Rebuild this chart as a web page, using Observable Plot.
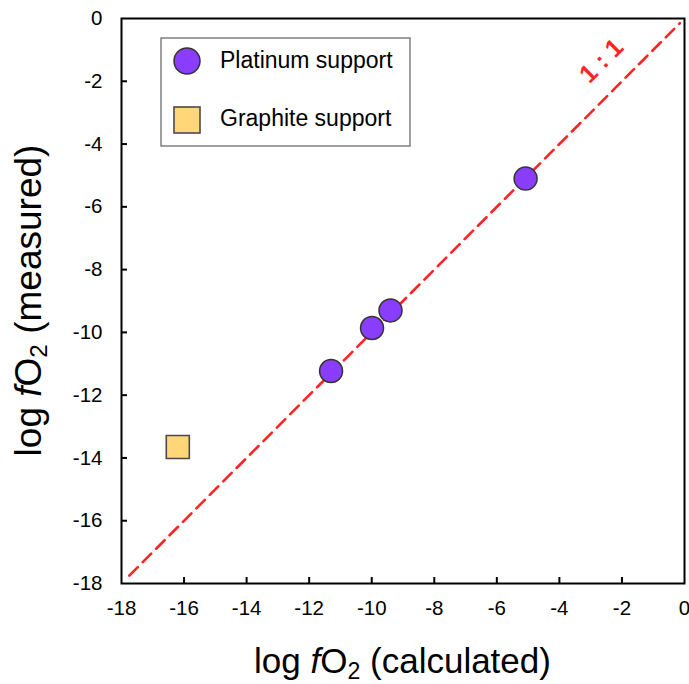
<!DOCTYPE html>
<html>
<head>
<meta charset="utf-8">
<script src="https://cdn.jsdelivr.net/npm/d3@7"></script>
<script src="https://cdn.jsdelivr.net/npm/@observablehq/plot@0.6"></script>
<style>
  html, body { margin: 0; padding: 0; background: #fff; }
  #wrap { position: relative; width: 689px; height: 684px; overflow: hidden; font-family: "Liberation Sans", Arial, Helvetica, sans-serif; }
  #wrap svg.plot { position: absolute; left: 0; top: 0; }
  .title { position: absolute; white-space: nowrap; text-align: center; color: #000; }
  .title sub { font-size: 0.66em; line-height: 0; vertical-align: -0.25em; }
  #xtitle { font-size: 35px; line-height: 35px; left: 121px; width: 563px; top: 643px; }
  #ytitle { font-size: 37px; line-height: 37px; width: 500px; left: calc(28px - 250px); top: calc(300px - 18.5px); transform: rotate(-90deg); }
  #legend { position: absolute; left: 0; top: 0; pointer-events: none; }
</style>
</head>
<body>
<div id="wrap"></div>
<script>
// ---- data ----
const platinumCalc = [-5.08, -9.40, -9.99, -11.30];
const platinumMeas = [-5.10, -9.30, -9.86, -11.23];
const graphiteCalc = [-16.2];
const graphiteMeas = [-13.65];
const xTicks = [-18, -16, -14, -12, -10, -8, -6, -4, -2, 0];
const yTicks = [-18, -16, -14, -12, -10, -8, -6, -4, -2, 0];
const oneToOne = [-17.75, -0.15];
const oneToOneLabel = {x: -2.65, y: -1.35, text: "1 : 1"};
const legendLabels = ["Platinum support", "Graphite support"];

const purple = "#8b3dfd";
const yellow = "#ffd678";

const platinum = platinumCalc.map((c, i) => ({x: c, y: platinumMeas[i]}));
const graphite = graphiteCalc.map((c, i) => ({x: c, y: graphiteMeas[i]}));
const line11 = oneToOne.map(v => ({x: v, y: v}));
const innerX = xTicks.slice(1, -1);
const innerY = yTicks.slice(1, -1);
const font = '"Liberation Sans", Arial, Helvetica, sans-serif';

const W = 689, H = 684, ML = 121, MR = 5, MT = 18, MB = 101, TICK = 6;
const frameW = W - ML - MR, frameH = H - MT - MB;

const chart = Plot.plot({
  width: W,
  height: H,
  marginLeft: ML,
  marginRight: MR,
  marginTop: MT,
  marginBottom: MB,
  x: {domain: [-18, 0], label: null},
  y: {domain: [-18, 0], label: null},
  style: {fontFamily: font, fontSize: "20px", color: "#000", background: "transparent", overflow: "visible"},
  marks: [
    Plot.line(line11, {x: "x", y: "y", stroke: "#ff2424", strokeWidth: 2.6, strokeDasharray: "12,7"}),
    Plot.text([oneToOneLabel], {x: "x", y: "y", text: "text", rotate: -45, fill: "#ff2424", fontSize: 25, fontWeight: "bold"}),
    Plot.dot(graphite, {x: "x", y: "y", symbol: "square", r: 13, fill: yellow, stroke: "#4a4a4a", strokeWidth: 1.6}),
    Plot.dot(platinum, {x: "x", y: "y", r: 11.5, fill: purple, stroke: "#333", strokeWidth: 1.5}),
    Plot.frame({stroke: "#000", strokeWidth: 2}),
    // inward tick marks on bottom and left
    Plot.ruleX(innerX, {x: d => d, insetTop: frameH - TICK, stroke: "#000", strokeWidth: 2}),
    Plot.ruleY(innerY, {y: d => d, insetRight: frameW - TICK, stroke: "#000", strokeWidth: 2}),
    Plot.axisX({ticks: xTicks, tickSize: 0, tickPadding: 17, fontSize: 20.5, tickFormat: d => String(d), label: null}),
    Plot.axisY({ticks: yTicks, tickSize: 0, tickPadding: 19, fontSize: 20.5, tickFormat: d => String(d), label: null})
  ]
});
chart.classList.add("plot");
const wrap = document.getElementById("wrap");
wrap.appendChild(chart);

// axis titles
const xt = document.createElement("div");
xt.id = "xtitle"; xt.className = "title";
xt.innerHTML = 'log <i>f</i>O<sub>2</sub> (calculated)';
wrap.appendChild(xt);
const yt = document.createElement("div");
yt.id = "ytitle"; yt.className = "title";
yt.innerHTML = 'log <i>f</i>O<sub>2</sub> (measured)';
wrap.appendChild(yt);

// legend
const ns = "http://www.w3.org/2000/svg";
const leg = document.createElementNS(ns, "svg");
leg.setAttribute("id", "legend");
leg.setAttribute("width", W);
leg.setAttribute("height", H);
const lg = d3.select(leg);
lg.append("rect").attr("x", 161).attr("y", 38).attr("width", 249).attr("height", 108)
  .attr("fill", "#fff").attr("stroke", "#808080").attr("stroke-width", 1.5);
lg.append("circle").attr("cx", 187).attr("cy", 61).attr("r", 13)
  .attr("fill", purple).attr("stroke", "#333").attr("stroke-width", 1.5);
lg.append("rect").attr("x", 174).attr("y", 107).attr("width", 26).attr("height", 26)
  .attr("fill", yellow).attr("stroke", "#4a4a4a").attr("stroke-width", 1.6);
lg.selectAll("text.lab").data(legendLabels).join("text").attr("class", "lab")
  .attr("x", 220).attr("y", (d, i) => i === 0 ? 68 : 126)
  .attr("font-family", font)
  .attr("font-size", 23).attr("fill", "#000").text(d => d);
wrap.appendChild(leg);
</script>
</body>
</html>
